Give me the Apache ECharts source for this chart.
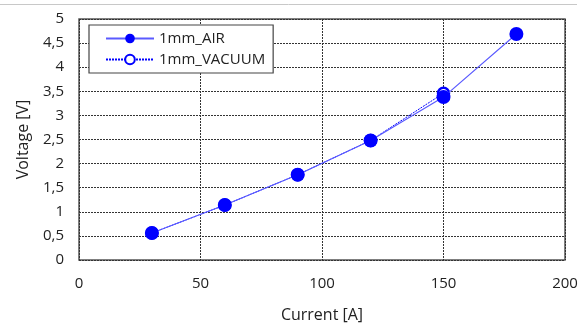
<!DOCTYPE html>
<html>
<head>
<meta charset="utf-8">
<script src="https://cdn.jsdelivr.net/npm/echarts@6/dist/echarts.min.js"></script>
<style>
  html, body { margin: 0; padding: 0; background: #fff; }
  #chart { width: 579px; height: 326px; }
</style>
</head>
<body>
<div id="chart"></div>
<script>
var currentAir = [30, 60, 90, 120, 150, 180];
var voltageAir = [0.56, 1.14, 1.77, 2.48, 3.38, 4.69];
var currentVacuum = [30, 60, 90, 120, 150];
var voltageVacuum = [0.56, 1.14, 1.77, 2.48, 3.46];

function pairs(xs, ys) {
  var out = [];
  for (var i = 0; i < xs.length; ++i) {
    out.push([xs[i], ys[i]]);
  }
  return out;
}

var myChart = echarts.init(document.getElementById('chart'));
var font = 'Open Sans';
var option = {
  animation: false,
  textStyle: { fontFamily: font },
  graphic: [{
    type: 'line',
    shape: { x1: 0, y1: 4.5, x2: 577, y2: 4.5 },
    style: { stroke: '#c8c8c8', lineWidth: 1 }
  }],
  grid: {
    left: 79, right: 14, top: 19, bottom: 66,
    outerBoundsMode: 'none', containLabel: false,
    show: true, borderColor: '#555', borderWidth: 1.5
  },
  legend: {
    orient: 'vertical',
    left: 89, top: 25,
    padding: [6, 8, 6, 16],
    itemGap: 6,
    itemWidth: 48, itemHeight: 12,
    backgroundColor: '#fff',
    borderColor: '#444', borderWidth: 1.2,
    textStyle: { fontFamily: font, fontSize: 15, color: '#222' },
    data: ['1mm_AIR', '1mm_VACUUM']
  },
  xAxis: {
    type: 'value',
    min: 0, max: 200, interval: 50,
    name: 'Current [A]',
    nameLocation: 'middle',
    nameGap: 47,
    nameTextStyle: { fontSize: 16, color: '#222', fontFamily: font },
    axisLine: { show: false },
    axisTick: { show: false },
    axisLabel: { fontSize: 15, color: '#222', margin: 16, fontFamily: font },
    splitLine: { lineStyle: { type: [2, 1], color: '#333', width: 1 } }
  },
  yAxis: {
    type: 'value',
    min: 0, max: 5, interval: 0.5,
    name: 'Voltage [V]',
    nameLocation: 'middle',
    nameGap: 48,
    nameTextStyle: { fontSize: 16, color: '#222', fontFamily: font },
    axisLine: { show: false },
    axisTick: { show: false },
    axisLabel: {
      fontSize: 15, color: '#222', margin: 15, fontFamily: font,
      formatter: function (v) { return String(v).replace('.', ','); }
    },
    splitLine: { lineStyle: { type: [2, 1], color: '#333', width: 1 } }
  },
  series: [{
    name: '1mm_VACUUM',
    type: 'line',
    z: 2,
    data: pairs(currentVacuum, voltageVacuum),
    symbol: 'circle',
    symbolSize: 11,
    itemStyle: { color: '#fff', borderColor: '#0000ff', borderWidth: 2.5 },
    lineStyle: { color: '#0000ff', width: 1, type: [2, 1] }
  }, {
    name: '1mm_AIR',
    type: 'line',
    z: 3,
    data: pairs(currentAir, voltageAir),
    symbol: 'circle',
    symbolSize: 14,
    itemStyle: { color: '#0000ff' },
    lineStyle: { color: '#5a5aff', width: 1.2 }
  }]
};
myChart.setOption(option);
</script>
</body>
</html>
